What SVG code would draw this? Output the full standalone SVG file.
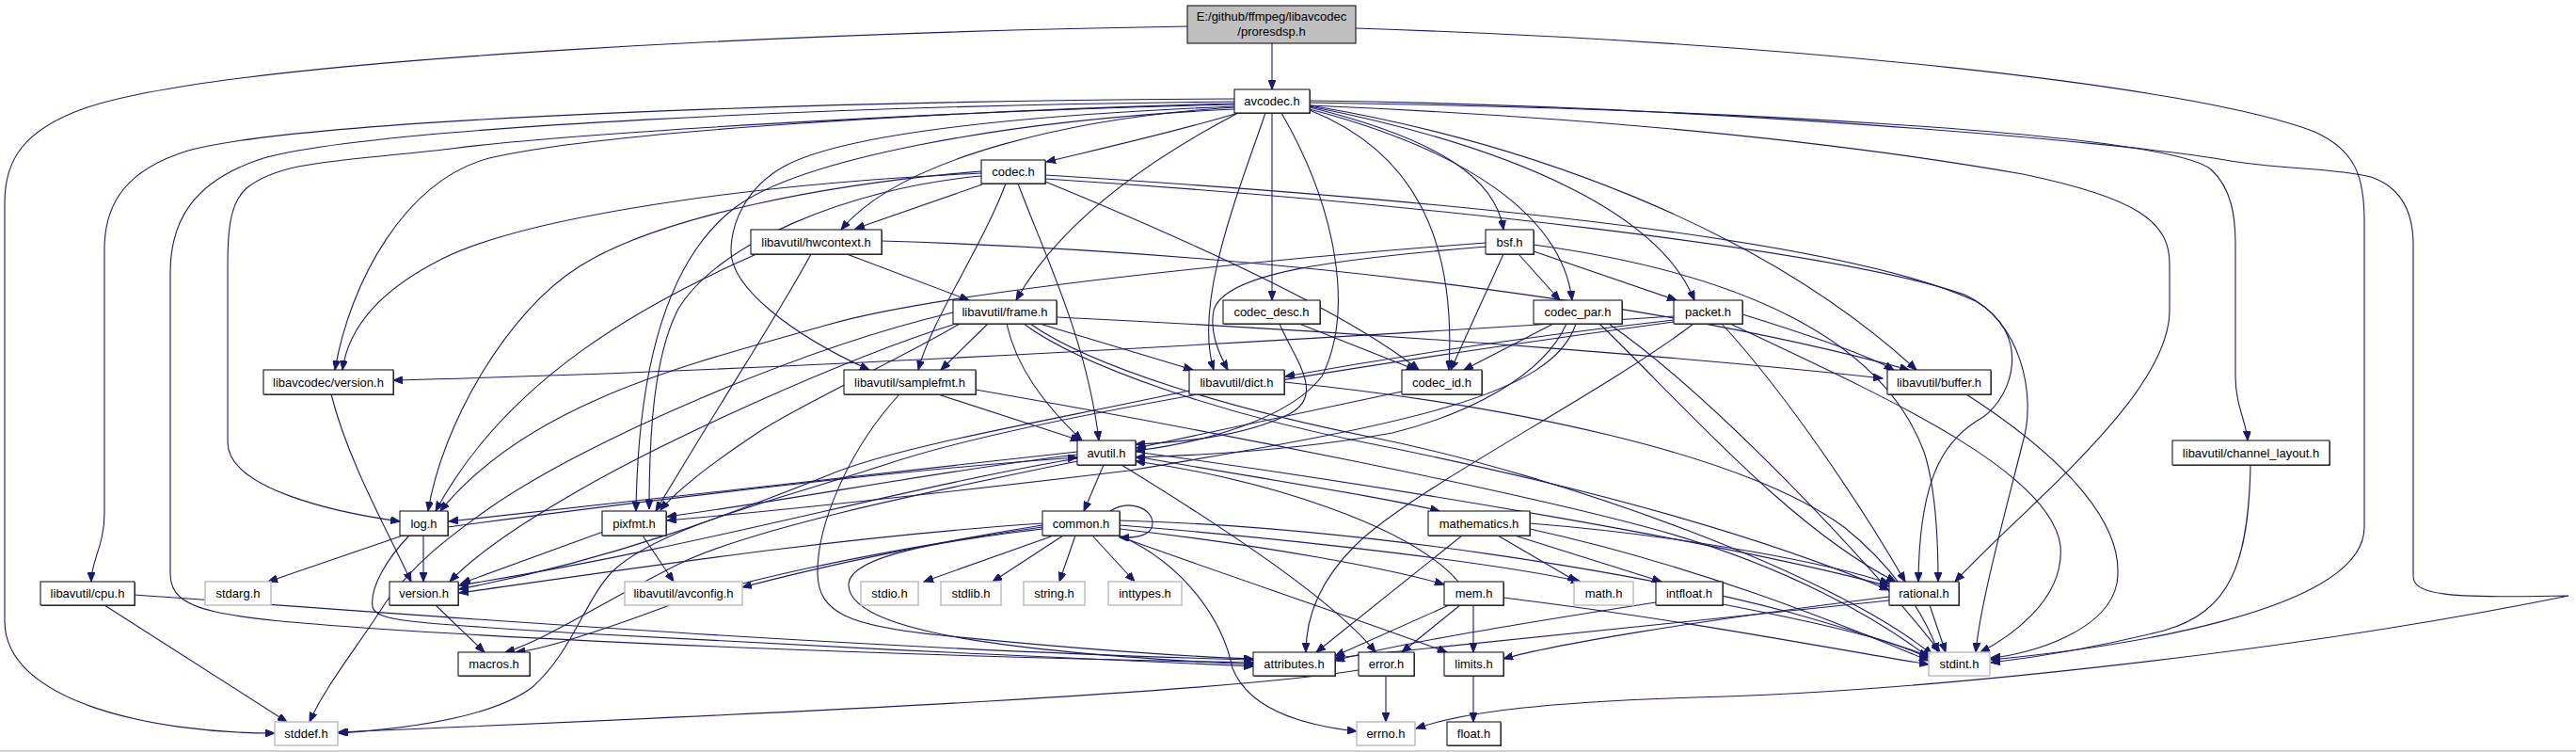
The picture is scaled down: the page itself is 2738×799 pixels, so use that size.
<svg xmlns="http://www.w3.org/2000/svg" width="2738" height="799" viewBox="0 0 2738 799">
<defs>
<marker id="a" markerUnits="userSpaceOnUse" markerWidth="11" markerHeight="8" refX="10" refY="4" orient="auto"><path d="M0,0 L10,4 L0,8 z" fill="#191970" stroke="#191970" stroke-width="1"/></marker>
<style>
.n rect.b{fill:#fff;stroke:#000;stroke-width:1}
.n rect.s{fill:#555;stroke:none}
.g rect.b{fill:#fff;stroke:#bfbfbf;stroke-width:1.5}
.r rect.b{fill:#bfbfbf;stroke:#000;stroke-width:1}
text{font-family:"Liberation Sans",Arial,sans-serif;font-size:13px;text-anchor:middle;fill:#000}
#edges path{fill:none;stroke:#191970;stroke-width:1.1;marker-end:url(#a)}
</style>
</defs>
<rect x="0" y="0" width="2738" height="799" fill="#fff"/>
<line x1="0" y1="798" x2="2738" y2="798" stroke="#c0c0c0" stroke-width="1.5"/>
<g id="edges">
<path d="M1352,46 L1352,95"/>
<path d="M1262,28 C900,34 250,60 90,115 C25,138 5,170 5,215 L5,660 C5,745 160,779 292,779"/>
<path d="M1441,30 C1900,45 2330,90 2460,140 C2505,160 2513,190 2513,235 L2513,560 C2513,650 2250,688 2116,701"/>
<path d="M1316,120 C1250,140 1170,158 1112,172"/>
<path d="M1312,105 C900,107 330,125 200,160 C135,180 111,215 111,265 L111,545 C111,580 97,595 97,618"/>
<path d="M1312,108 C900,112 400,135 280,168 C205,192 181,235 181,290 L181,610 C181,650 230,656 400,668 C700,688 1100,700 1332,704"/>
<path d="M1312,111 C1000,118 600,142 480,158 C360,172 300,170 262,200 C246,214 242,240 242,280 L242,470 C242,520 360,545 425,554"/>
<path d="M1312,110 C1000,118 640,140 520,168 C430,192 372,300 356,393"/>
<path d="M1312,114 C1150,124 960,165 894,244"/>
<path d="M1312,113 C1100,122 900,140 833,177 C792,200 777,238 777,267 C777,305 840,355 924,393"/>
<path d="M1312,116 C1060,128 850,170 782,220 C705,278 678,400 676,543"/>
<path d="M1316,120 C1230,165 1130,230 1080,319"/>
<path d="M1345,120 C1318,200 1268,320 1290,393"/>
<path d="M1352,120 L1352,319"/>
<path d="M1362,120 C1420,220 1440,330 1405,400 C1370,445 1280,470 1207,479"/>
<path d="M1392,117 C1500,160 1548,250 1540,393"/>
<path d="M1392,114 C1530,148 1590,190 1598,244"/>
<path d="M1392,116 C1560,160 1660,230 1671,319"/>
<path d="M1392,113 C1620,158 1765,230 1801,319"/>
<path d="M1392,112 C1620,150 1870,240 2037,393"/>
<path d="M1392,112 C1700,125 1950,150 2150,185 C2270,210 2306,235 2306,280 L2306,330 C2306,420 2150,540 2078,618"/>
<path d="M1392,109 C1800,115 2300,140 2350,180 C2372,200 2376,230 2376,260 L2376,400 C2376,430 2388,450 2389,468"/>
<path d="M1392,107 C1800,112 2250,150 2365,170 C2420,180 2480,178 2520,188 C2555,200 2565,230 2565,260 L2565,612 C2565,632 2600,636 2730,633 C2450,690 2050,735 1800,741 C1650,746 1560,755 1505,774"/>
<path d="M1044,196 L909,243"/>
<path d="M1043,184 C800,195 560,230 470,275 C400,310 370,350 364,393"/>
<path d="M1043,182 C880,195 700,230 616,283 C540,330 470,450 455,543"/>
<path d="M1043,187 C900,200 760,260 720,330 C695,380 690,460 690,541"/>
<path d="M1069,195 C1045,260 990,340 976,393"/>
<path d="M1082,195 C1110,270 1155,360 1168,468"/>
<path d="M1111,193 C1250,250 1430,330 1508,393"/>
<path d="M1111,186 C1500,210 1950,250 2100,320 C2160,355 2140,420 2108,443 C2070,465 2040,500 2039,618"/>
<path d="M1111,190 C1500,215 1950,265 2088,313 C2148,340 2165,420 2150,470 C2130,550 2105,640 2100,693"/>
<path d="M937,256 C1400,270 1800,330 2029,393"/>
<path d="M900,270 L1030,319"/>
<path d="M804,270 C690,320 540,400 463,543"/>
<path d="M862,270 C830,330 770,420 697,543"/>
<path d="M1580,262 C1420,275 1300,290 1290,330 C1285,355 1298,380 1305,393"/>
<path d="M1579,258 C1350,275 1000,310 880,345 C720,390 560,430 468,543"/>
<path d="M1630,260 C1850,290 2000,360 2045,480 C2058,520 2060,580 2060,618"/>
<path d="M1598,270 L1542,393"/>
<path d="M1614,270 L1658,319"/>
<path d="M1630,267 L1782,319"/>
<path d="M1360,344 C1375,380 1410,420 1370,440 C1320,465 1250,470 1207,472"/>
<path d="M1381,344 L1505,393"/>
<path d="M1490,416 L1208,476"/>
<path d="M1651,344 L1556,393"/>
<path d="M1665,344 C1640,400 1560,440 1480,460 C1380,478 1270,484 1207,486"/>
<path d="M1675,344 C1650,420 1500,450 1200,500 C950,530 800,545 709,553"/>
<path d="M1700,344 C1780,420 1900,560 2015,618"/>
<path d="M1710,344 C1820,420 1990,600 2062,693"/>
<path d="M1779,336 C1400,360 800,395 418,404"/>
<path d="M1779,340 C1600,360 1450,385 1366,400"/>
<path d="M1800,344 C1700,420 1500,520 1440,580 C1400,620 1388,660 1388,693"/>
<path d="M1852,334 C1920,355 1980,375 2013,393"/>
<path d="M1830,344 C1900,420 1980,540 2025,618"/>
<path d="M1839,344 C2000,420 2180,500 2190,580 C2195,640 2130,680 2105,693"/>
<path d="M1779,342 C1500,380 1100,440 940,494 C830,530 700,560 651,607 C620,640 610,690 566,730 C520,765 420,775 360,779"/>
<path d="M1050,344 L1000,393"/>
<path d="M1070,344 C1080,390 1110,430 1150,468"/>
<path d="M1105,344 L1268,393"/>
<path d="M1123,337 C1500,355 1850,385 2001,402"/>
<path d="M1088,344 C1150,390 1300,440 1450,470 C1650,510 1850,560 2008,627"/>
<path d="M1095,344 C1160,390 1310,435 1460,465 C1660,505 1950,610 2054,696"/>
<path d="M1020,344 C960,380 850,430 805,460 C760,490 720,520 702,542"/>
<path d="M1016,344 C900,380 700,470 600,530 C540,565 500,595 478,618"/>
<path d="M1013,332 C850,370 620,470 520,540 C470,575 440,600 410,640 C385,680 345,730 329,767"/>
<path d="M997,419 L1148,468"/>
<path d="M956,419 C900,480 868,560 869,610 C870,650 900,665 1000,675 C1150,690 1250,697 1332,700"/>
<path d="M1037,414 C1300,460 1600,520 1750,560 C1900,600 2000,660 2052,700"/>
<path d="M1365,406 C1600,430 1850,480 1960,560 C2010,600 2045,650 2060,693"/>
<path d="M1264,415 C1100,450 950,475 880,505 C780,545 650,595 488,626"/>
<path d="M2090,419 C2200,490 2260,560 2250,620 C2240,670 2160,695 2116,699"/>
<path d="M2392,494 C2390,600 2370,650 2300,670 C2220,690 2150,700 2116,704"/>
<path d="M1173,494 L1152,543"/>
<path d="M1192,494 C1300,560 1420,640 1462,693"/>
<path d="M1207,485 C1350,510 1480,530 1530,543"/>
<path d="M1207,480 C1500,520 1850,580 2008,623"/>
<path d="M1145,480 C1000,495 700,530 477,554"/>
<path d="M1145,483 C1000,500 850,530 709,549"/>
<path d="M1145,487 C950,520 750,580 488,622"/>
<path d="M1145,490 C1000,520 800,560 720,600 C640,640 580,680 537,693"/>
<path d="M1180,543 C1200,530 1225,540 1225,556 C1225,568 1210,572 1190,571"/>
<path d="M1120,569 L982,618"/>
<path d="M1130,569 L1055,618"/>
<path d="M1143,569 L1126,618"/>
<path d="M1161,569 L1206,618"/>
<path d="M1190,562 C1350,580 1480,605 1535,621"/>
<path d="M1190,558 C1400,575 1600,600 1680,618"/>
<path d="M1187,569 C1300,610 1450,660 1538,693"/>
<path d="M1190,569 C1260,600 1300,660 1310,710 C1330,760 1400,772 1442,777"/>
<path d="M1108,562 C1000,575 905,590 902,620 C900,660 1000,690 1332,706"/>
<path d="M1108,560 C900,590 780,620 720,640 C640,670 580,690 548,693"/>
<path d="M1108,556 C900,570 700,600 488,630"/>
<path d="M1108,558 C1000,575 880,600 789,624"/>
<path d="M1190,553 C1450,560 1750,610 1900,650 C1980,672 2030,690 2050,697"/>
<path d="M1592,569 L1676,618"/>
<path d="M1610,569 L1766,618"/>
<path d="M1554,569 L1399,693"/>
<path d="M1626,556 C1800,570 1950,600 2008,620"/>
<path d="M1626,562 C1800,600 1950,660 2050,702"/>
<path d="M1550,618 C1500,560 1350,510 1207,490"/>
<path d="M1540,643 L1419,697"/>
<path d="M1552,643 L1490,693"/>
<path d="M1566,643 L1566,693"/>
<path d="M1598,635 C1800,660 1950,690 2050,706"/>
<path d="M2051,643 L2068,693"/>
<path d="M2008,634 C1800,660 1650,685 1598,700"/>
<path d="M2008,638 C1800,660 1550,685 1419,699"/>
<path d="M1760,640 C1600,665 1480,685 1419,702"/>
<path d="M1831,642 C1950,665 2010,680 2050,699"/>
<path d="M428,569 L285,618"/>
<path d="M450,569 L450,618"/>
<path d="M435,569 C410,595 393,625 396,645 C400,660 440,662 600,672 C800,684 1150,700 1332,708"/>
<path d="M476,560 C700,530 950,500 1145,486"/>
<path d="M641,565 L490,620"/>
<path d="M683,569 L716,618"/>
<path d="M111,643 L305,767"/>
<path d="M143,632 C400,650 900,690 1332,701"/>
<path d="M463,643 L515,693"/>
<path d="M352,419 C370,490 410,560 437,618"/>
<path d="M1473,718 L1473,767"/>
<path d="M1444,712 C1300,735 900,755 359,778"/>
<path d="M1566,718 L1566,767"/>
</g>
<g id="n_root" class="r"><rect class="b" x="1262" y="6" width="179" height="40"/><text x="1351.5" y="22">E:/github/ffmpeg/libavcodec</text><text x="1351.5" y="38">/proresdsp.h</text></g>
<g id="n_avcodec" class="n"><rect class="s" x="1313" y="96" width="80" height="25"/><rect class="b" x="1312" y="95" width="80" height="25"/><text x="1352" y="112">avcodec.h</text></g>
<g id="n_codec" class="n"><rect class="s" x="1044" y="171" width="68" height="25"/><rect class="b" x="1043" y="170" width="68" height="25"/><text x="1077" y="187">codec.h</text></g>
<g id="n_hwcontext" class="n"><rect class="s" x="799" y="245" width="139" height="26"/><rect class="b" x="798" y="244" width="139" height="26"/><text x="867.5" y="262">libavutil/hwcontext.h</text></g>
<g id="n_bsf" class="n"><rect class="s" x="1580" y="245" width="51" height="26"/><rect class="b" x="1579" y="244" width="51" height="26"/><text x="1604.5" y="262">bsf.h</text></g>
<g id="n_frame" class="n"><rect class="s" x="1014" y="320" width="110" height="25"/><rect class="b" x="1013" y="319" width="110" height="25"/><text x="1068" y="336">libavutil/frame.h</text></g>
<g id="n_codec_desc" class="n"><rect class="s" x="1301" y="320" width="103" height="25"/><rect class="b" x="1300" y="319" width="103" height="25"/><text x="1351.5" y="336">codec_desc.h</text></g>
<g id="n_codec_par" class="n"><rect class="s" x="1631" y="320" width="94" height="25"/><rect class="b" x="1630" y="319" width="94" height="25"/><text x="1677" y="336">codec_par.h</text></g>
<g id="n_packet" class="n"><rect class="s" x="1780" y="320" width="73" height="25"/><rect class="b" x="1779" y="319" width="73" height="25"/><text x="1815.5" y="336">packet.h</text></g>
<g id="n_lavc_version" class="n"><rect class="s" x="281" y="394" width="138" height="26"/><rect class="b" x="280" y="393" width="138" height="26"/><text x="349" y="411">libavcodec/version.h</text></g>
<g id="n_samplefmt" class="n"><rect class="s" x="898" y="394" width="140" height="26"/><rect class="b" x="897" y="393" width="140" height="26"/><text x="967" y="411">libavutil/samplefmt.h</text></g>
<g id="n_dict" class="n"><rect class="s" x="1265" y="394" width="101" height="26"/><rect class="b" x="1264" y="393" width="101" height="26"/><text x="1314.5" y="411">libavutil/dict.h</text></g>
<g id="n_codec_id" class="n"><rect class="s" x="1491" y="394" width="85" height="26"/><rect class="b" x="1490" y="393" width="85" height="26"/><text x="1532.5" y="411">codec_id.h</text></g>
<g id="n_buffer" class="n"><rect class="s" x="2007" y="394" width="110" height="26"/><rect class="b" x="2006" y="393" width="110" height="26"/><text x="2061" y="411">libavutil/buffer.h</text></g>
<g id="n_avutil" class="n"><rect class="s" x="1146" y="469" width="62" height="26"/><rect class="b" x="1145" y="468" width="62" height="26"/><text x="1176" y="486">avutil.h</text></g>
<g id="n_channel_layout" class="n"><rect class="s" x="2310" y="469" width="167" height="26"/><rect class="b" x="2309" y="468" width="167" height="26"/><text x="2392.5" y="486">libavutil/channel_layout.h</text></g>
<g id="n_log" class="n"><rect class="s" x="426" y="544" width="51" height="26"/><rect class="b" x="425" y="543" width="51" height="26"/><text x="450.5" y="561">log.h</text></g>
<g id="n_pixfmt" class="n"><rect class="s" x="641" y="544" width="68" height="26"/><rect class="b" x="640" y="543" width="68" height="26"/><text x="674" y="561">pixfmt.h</text></g>
<g id="n_common" class="n"><rect class="s" x="1109" y="544" width="82" height="26"/><rect class="b" x="1108" y="543" width="82" height="26"/><text x="1149" y="561">common.h</text></g>
<g id="n_mathematics" class="n"><rect class="s" x="1519" y="544" width="108" height="26"/><rect class="b" x="1518" y="543" width="108" height="26"/><text x="1572" y="561">mathematics.h</text></g>
<g id="n_cpu" class="n"><rect class="s" x="44" y="619" width="100" height="25"/><rect class="b" x="43" y="618" width="100" height="25"/><text x="93" y="635">libavutil/cpu.h</text></g>
<g id="n_stdarg" class="g"><rect class="b" x="218" y="618" width="70" height="25"/><text x="253" y="635">stdarg.h</text></g>
<g id="n_version" class="n"><rect class="s" x="415" y="619" width="73" height="25"/><rect class="b" x="414" y="618" width="73" height="25"/><text x="450.5" y="635">version.h</text></g>
<g id="n_avconfig" class="g"><rect class="b" x="664" y="618" width="125" height="25"/><text x="726.5" y="635">libavutil/avconfig.h</text></g>
<g id="n_stdio" class="g"><rect class="b" x="915" y="618" width="61" height="25"/><text x="945.5" y="635">stdio.h</text></g>
<g id="n_stdlib" class="g"><rect class="b" x="1000" y="618" width="64" height="25"/><text x="1032" y="635">stdlib.h</text></g>
<g id="n_string" class="g"><rect class="b" x="1088" y="618" width="65" height="25"/><text x="1120.5" y="635">string.h</text></g>
<g id="n_inttypes" class="g"><rect class="b" x="1178" y="618" width="78" height="25"/><text x="1217" y="635">inttypes.h</text></g>
<g id="n_mem" class="n"><rect class="s" x="1536" y="619" width="63" height="25"/><rect class="b" x="1535" y="618" width="63" height="25"/><text x="1566.5" y="635">mem.h</text></g>
<g id="n_math" class="g"><rect class="b" x="1673" y="618" width="63" height="25"/><text x="1704.5" y="635">math.h</text></g>
<g id="n_intfloat" class="n"><rect class="s" x="1761" y="619" width="71" height="25"/><rect class="b" x="1760" y="618" width="71" height="25"/><text x="1795.5" y="635">intfloat.h</text></g>
<g id="n_rational" class="n"><rect class="s" x="2009" y="619" width="74" height="25"/><rect class="b" x="2008" y="618" width="74" height="25"/><text x="2045" y="635">rational.h</text></g>
<g id="n_macros" class="n"><rect class="s" x="488" y="694" width="76" height="25"/><rect class="b" x="487" y="693" width="76" height="25"/><text x="525" y="710">macros.h</text></g>
<g id="n_attributes" class="n"><rect class="s" x="1333" y="694" width="87" height="25"/><rect class="b" x="1332" y="693" width="87" height="25"/><text x="1375.5" y="710">attributes.h</text></g>
<g id="n_error" class="n"><rect class="s" x="1445" y="694" width="59" height="25"/><rect class="b" x="1444" y="693" width="59" height="25"/><text x="1473.5" y="710">error.h</text></g>
<g id="n_limits" class="n"><rect class="s" x="1536" y="694" width="63" height="25"/><rect class="b" x="1535" y="693" width="63" height="25"/><text x="1566.5" y="710">limits.h</text></g>
<g id="n_stdint" class="g"><rect class="b" x="2050" y="693" width="65" height="25"/><text x="2082.5" y="710">stdint.h</text></g>
<g id="n_stddef" class="g"><rect class="b" x="292" y="767" width="67" height="25"/><text x="325.5" y="784">stddef.h</text></g>
<g id="n_errno" class="g"><rect class="b" x="1442" y="767" width="62" height="25"/><text x="1473" y="784">errno.h</text></g>
<g id="n_float" class="n"><rect class="s" x="1539" y="768" width="57" height="25"/><rect class="b" x="1538" y="767" width="57" height="25"/><text x="1566.5" y="784">float.h</text></g>
</svg>
